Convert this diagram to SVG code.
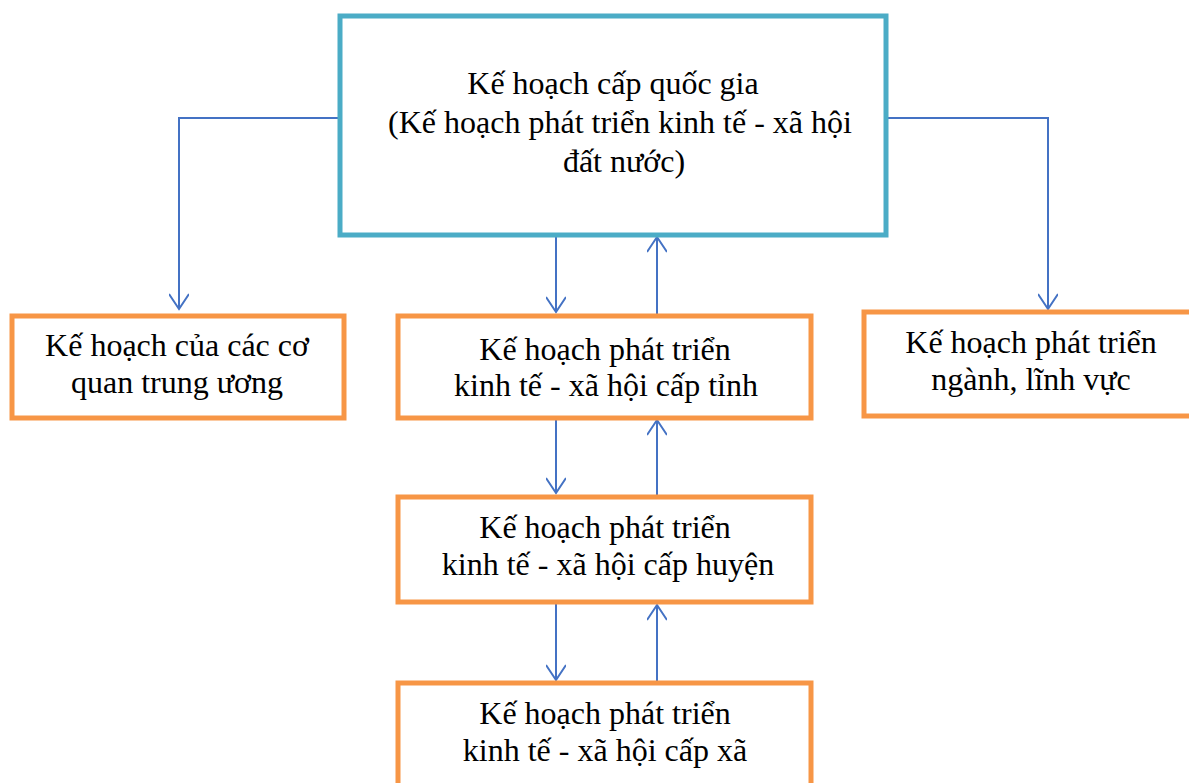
<svg xmlns="http://www.w3.org/2000/svg" width="1189" height="783" viewBox="0 0 1189 783">
<style>
.top{fill:#fff;stroke:#4BACC6;stroke-width:5}
.box{fill:#fff;stroke:#F79646;stroke-width:5}
.t{font-family:"Liberation Serif","Times New Roman",serif;font-size:32px;fill:#000;text-anchor:middle}
.c{fill:none;stroke:#4472C4;stroke-width:2;marker-end:url(#ah)}
</style>
<defs>
<marker id="ah" viewBox="0 0 20 20" refX="18" refY="10" markerWidth="20" markerHeight="20" markerUnits="userSpaceOnUse" orient="auto">
<path d="M3,0 L18,10 L3,20" fill="none" stroke="#4472C4" stroke-width="2"/>
</marker>
</defs>
<g id="connectors">
<path class="c" d="M340,118 H179 V309"/>
<path class="c" d="M886,118 H1048 V309"/>
<path class="c" d="M556,235 V312"/>
<path class="c" d="M657,314 V237"/>
<path class="c" d="M556,418 V493"/>
<path class="c" d="M657,495 V420"/>
<path class="c" d="M556,603 V680"/>
<path class="c" d="M657,682 V605"/>
</g>
<g id="national">
<rect class="top" x="340" y="16" width="546" height="219"/>
<text class="t" x="613" y="94">Kế hoạch cấp quốc gia</text>
<text class="t" x="620" y="133">(Kế hoạch phát triển kinh tế - xã hội</text>
<text class="t" x="624" y="172">đất nước)</text>
</g>
<g id="central">
<rect class="box" x="12" y="316" width="332" height="102"/>
<text class="t" x="177" y="356">Kế hoạch của các cơ</text>
<text class="t" x="177" y="393">quan trung ương</text>
</g>
<g id="province">
<rect class="box" x="398" y="316" width="413" height="102"/>
<text class="t" x="605" y="360">Kế hoạch phát triển</text>
<text class="t" x="606" y="396">kinh tế - xã hội cấp tỉnh</text>
</g>
<g id="sector">
<rect class="box" x="864" y="312" width="330" height="104"/>
<text class="t" x="1031" y="353">Kế hoạch phát triển</text>
<text class="t" x="1031" y="390">ngành, lĩnh vực</text>
</g>
<g id="district">
<rect class="box" x="398" y="497" width="413" height="105"/>
<text class="t" x="605" y="538">Kế hoạch phát triển</text>
<text class="t" x="608" y="575">kinh tế - xã hội cấp huyện</text>
</g>
<g id="commune">
<rect class="box" x="398" y="683" width="413" height="110"/>
<text class="t" x="605" y="724">Kế hoạch phát triển</text>
<text class="t" x="605" y="761">kinh tế - xã hội cấp xã</text>
</g>
</svg>
